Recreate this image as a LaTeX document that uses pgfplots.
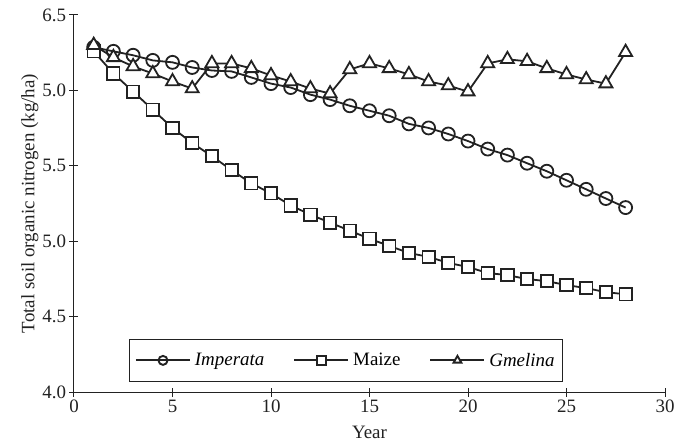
\documentclass[border=0pt]{standalone}
\usepackage{fontspec}
\setmainfont{Liberation Serif}
\usepackage{pgfplots}
\pgfplotsset{compat=1.18}
\definecolor{ink}{HTML}{222222}
\begin{document}
\begin{tikzpicture}
\begin{axis}[
  scale only axis, width=591bp, height=377bp,
  xmin=0, xmax=30, ymin=4, ymax=6.5,
  axis lines=left, axis line style={-, line width=1bp, ink},
  xtick={0,5,...,30}, ytick={4,4.5,5,5.5,6,6.5},
  yticklabels={4.0,4.5,5.0,5.5,5.0,6.5},
  tick align=center, major tick length=9bp,
  tick style={line width=1bp, ink},
  xlabel={Year}, ylabel={Total soil organic nitrogen (kg/ha)},
  tick label style={font=\fontsize{19}{22}\selectfont, text=ink},
  label style={font=\fontsize{19}{22}\selectfont, text=ink},
  xlabel style={yshift=-6bp},
  ylabel style={yshift=-3bp},
  /pgf/number format/assume math mode=true,
  legend columns=3,
  legend style={at={(0.0923,0.026)}, anchor=south west, draw=ink, line width=1bp,
    font=\fontsize{19}{22}\selectfont, inner xsep=6bp, inner ysep=12bp,
    /tikz/every even column/.append style={column sep=27bp},
    /tikz/every odd column/.append style={column sep=2bp}},
  legend image code/.code={\draw[mark repeat=2,mark phase=2, mark size=4.5bp, line width=1.9bp] plot coordinates {(0bp,0bp)(27bp,0bp)(54bp,0bp)};},
]
\addplot[ink, line width=1.8bp, mark=o, mark size=6.5bp, mark options={fill=white, solid}] coordinates {
(1,6.286)(2,6.259)(3,6.233)(4,6.199)(5,6.186)(6,6.152)(7,6.132)(8,6.126)(9,6.086)(10,6.045)
(11,6.019)(12,5.972)(13,5.939)(14,5.898)(15,5.865)(16,5.832)(17,5.778)(18,5.751)(19,5.711)(20,5.664)
(21,5.611)(22,5.571)(23,5.517)(24,5.464)(25,5.404)(26,5.344)(27,5.283)(28,5.223)};
\addlegendentry{\textit{Imperata}}
\addplot[ink, line width=1.8bp, mark=square*, mark size=6.2bp, mark options={fill=white, solid}] coordinates {
(1,6.259)(2,6.112)(3,5.992)(4,5.872)(5,5.751)(6,5.651)(7,5.564)(8,5.471)(9,5.384)(10,5.317)
(11,5.237)(12,5.176)(13,5.123)(14,5.070)(15,5.016)(16,4.969)(17,4.922)(18,4.896)(19,4.856)(20,4.829)
(21,4.789)(22,4.775)(23,4.749)(24,4.735)(25,4.709)(26,4.689)(27,4.662)(28,4.648)};
\addlegendentry{Maize}
\addplot[ink, line width=1.8bp, mark=triangle*, mark size=7.5bp, mark options={fill=white, solid}] coordinates {
(1,6.300)(2,6.219)(3,6.159)(4,6.112)(5,6.059)(6,6.012)(7,6.179)(8,6.179)(9,6.146)(10,6.099)
(11,6.059)(12,6.012)(13,5.979)(14,6.139)(15,6.179)(16,6.146)(17,6.106)(18,6.059)(19,6.032)(20,5.992)
(21,6.179)(22,6.206)(23,6.193)(24,6.146)(25,6.106)(26,6.072)(27,6.045)(28,6.253)};
\addlegendentry{\textit{Gmelina}}
\end{axis}
\pgfresetboundingbox
\path[use as bounding box] (-74bp,-49bp) rectangle (600bp,392bp);
\end{tikzpicture}
\end{document}
